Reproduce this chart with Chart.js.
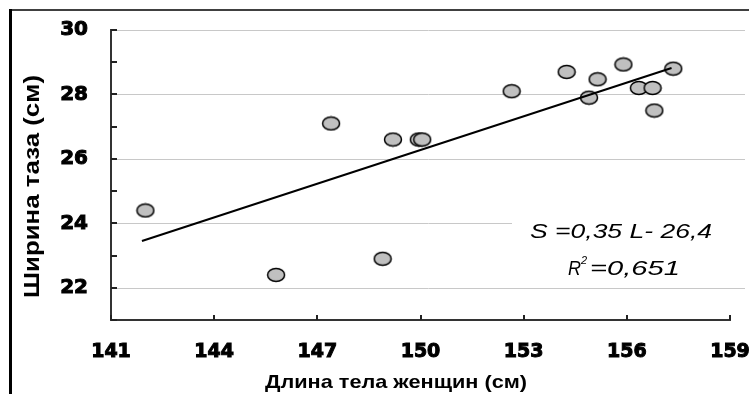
<!DOCTYPE html>
<html>
<head>
<meta charset="utf-8">
<script src="https://cdn.jsdelivr.net/npm/chart.js@4"></script>
<style>
  html, body { margin: 0; padding: 0; background: #fff; }
  canvas { display: block; }
</style>
</head>
<body>
<canvas id="chart" width="749" height="394"></canvas>
<script>
// body length of women (cm) vs pelvis width (cm)
const bodyLength  = [142.0, 145.8, 147.4, 148.9, 149.2, 149.95, 150.05, 152.65, 154.25, 155.15, 154.9, 155.9, 156.35, 156.75, 156.8, 157.35];
const pelvisWidth = [24.4, 22.4, 27.1, 22.9, 26.6, 26.6, 26.6, 28.1, 28.7, 28.47, 27.9, 28.93, 28.2, 28.2, 27.5, 28.8];

// trend line ends
const trendLength = [141.9, 157.3];
const trendWidth  = [23.45, 28.82];

const xTicks = [141, 144, 147, 150, 153, 156, 159];
const yTicks = [22, 24, 26, 28, 30];

// grey ellipse marker
const dot = document.createElement('canvas');
dot.width = 20; dot.height = 16;
const dc = dot.getContext('2d');
dc.beginPath();
dc.ellipse(10, 8, 8.5, 6.5, 0, 0, Math.PI * 2);
dc.fillStyle = '#c0c0c0';
dc.fill();
dc.lineWidth = 1.5;
dc.strokeStyle = '#000';
dc.stroke();

// draw text stretched sideways to a given width (wide old Excel fonts)
function stretched(ctx, text, x, y, width) {
  const w = ctx.measureText(text).width;
  ctx.save();
  ctx.translate(x, y);
  ctx.scale(width / w, 1);
  ctx.textAlign = 'left';
  ctx.textBaseline = 'alphabetic';
  ctx.fillText(text, 0, 0);
  ctx.restore();
}

const decor = {
  id: 'decor',
  beforeDatasetsDraw(chart) {
    const {ctx, chartArea: a, scales: {y}} = chart;
    ctx.save();
    ctx.strokeStyle = '#c8c8c8';
    ctx.lineWidth = 1;
    yTicks.forEach(v => {
      const py = Math.round(y.getPixelForValue(v)) + 0.5;
      ctx.beginPath();
      ctx.moveTo(a.left + 1, py);
      ctx.lineTo(a.right + 15, py);
      ctx.stroke();
    });
    // white box behind the equation
    ctx.fillStyle = '#fff';
    ctx.fillRect(512, 200, 237, 80);
    ctx.restore();
  },
  afterDatasetsDraw(chart) {
    const {ctx, chartArea: a, scales: {x, y}} = chart;
    ctx.save();
    // inward tick marks
    ctx.strokeStyle = '#222';
    ctx.lineWidth = 2;
    for (let v = y.min; v <= y.max; v++) {
      const py = Math.round(y.getPixelForValue(v));
      ctx.beginPath(); ctx.moveTo(a.left, py); ctx.lineTo(a.left + 6, py); ctx.stroke();
    }
    xTicks.forEach(v => {
      const px = Math.round(x.getPixelForValue(v));
      ctx.beginPath(); ctx.moveTo(px, a.bottom); ctx.lineTo(px, a.bottom - 5); ctx.stroke();
    });

    ctx.fillStyle = '#000';
    // equation
    ctx.font = 'italic 21px "Liberation Sans"';
    stretched(ctx, 'S =0,35 L- 26,4', 530, 238, 182);
    stretched(ctx, 'R', 568, 275, 13);
    ctx.font = 'italic 11px "Liberation Sans"';
    ctx.fillText('2', 581, 264);
    ctx.font = 'italic 21px "Liberation Sans"';
    stretched(ctx, '=0,651', 590, 275, 90);

    // axis titles
    ctx.font = 'bold 19px "Liberation Sans"';
    stretched(ctx, 'Длина тела женщин (см)', 265, 388, 262);
    ctx.save();
    ctx.translate(39, 298);
    ctx.rotate(-Math.PI / 2);
    ctx.font = 'bold 22px "Liberation Sans"';
    stretched(ctx, 'Ширина таза (см)', 0, 0, 223);
    ctx.restore();

    // frame
    ctx.fillStyle = '#404040';
    ctx.fillRect(9, 9, 740, 2);
    ctx.fillStyle = '#000';
    ctx.fillRect(9, 9, 3, 385);
    ctx.restore();
  }
};

new Chart(document.getElementById('chart'), {
  type: 'scatter',
  data: {
    datasets: [
      {
        data: trendLength.map((v, i) => ({ x: v, y: trendWidth[i] })),
        showLine: true,
        borderColor: '#000',
        borderWidth: 2,
        pointRadius: 0,
        order: 0
      },
      {
        data: bodyLength.map((v, i) => ({ x: v, y: pelvisWidth[i] })),
        pointStyle: dot,
        pointRadius: 8,
        pointHoverRadius: 8,
        order: 1
      }
    ]
  },
  options: {
    responsive: false,
    animation: false,
    events: [],
    layout: { padding: { top: 30, right: 19, left: 0, bottom: 0 } },
    plugins: { legend: { display: false }, tooltip: { enabled: false } },
    scales: {
      x: {
        type: 'linear',
        min: 141,
        max: 159,
        afterBuildTicks: s => { s.ticks = xTicks.map(v => ({ value: v })); },
        afterFit: s => { s.height = 74; s.paddingLeft = 0; s.paddingRight = 0; },
        grid: { display: false, drawTicks: false },
        border: { color: '#333', width: 2 },
        ticks: {
          color: '#000', padding: 21, maxRotation: 0, autoSkip: false,
          font: { family: 'DejaVu Sans', weight: 'bold', size: 19 },
          textStrokeColor: '#000', textStrokeWidth: 1
        }
      },
      y: {
        min: 21,
        max: 30,
        afterBuildTicks: s => { s.ticks = yTicks.map(v => ({ value: v })); },
        afterFit: s => { s.width = 111; s.paddingTop = 0; s.paddingBottom = 0; },
        grid: { display: false, drawTicks: false },
        border: { color: '#333', width: 2 },
        ticks: {
          color: '#000', padding: 23, autoSkip: false,
          font: { family: 'DejaVu Sans', weight: 'bold', size: 20 },
          textStrokeColor: '#000', textStrokeWidth: 1
        }
      }
    }
  },
  plugins: [decor]
});
</script>
</body>
</html>
